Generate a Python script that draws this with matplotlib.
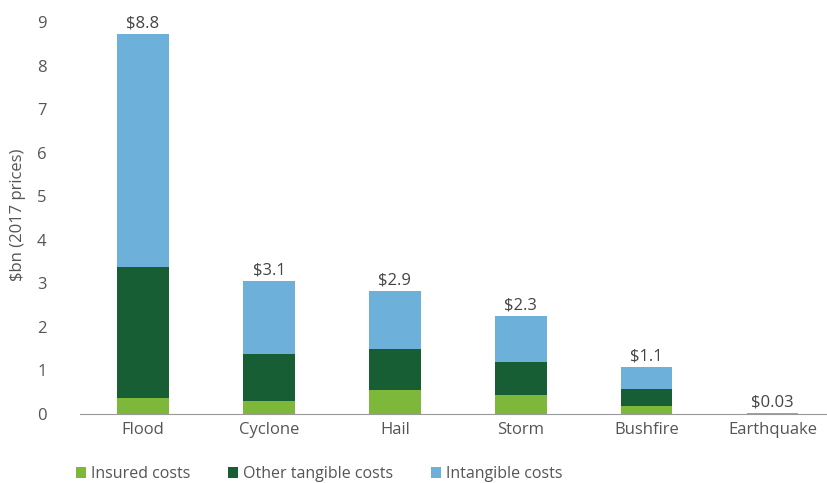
import numpy as np
import matplotlib
matplotlib.use('Agg')
from matplotlib import pyplot as plt

plt.rcParams['font.family'] = ['Open Sans', 'DejaVu Sans']

categories = ['Flood', 'Cyclone', 'Hail', 'Storm', 'Bushfire', 'Earthquake']
insured = [0.37, 0.30, 0.55, 0.44, 0.18, 0.0]
other_tangible = [3.00, 1.08, 0.95, 0.76, 0.40, 0.0]
intangible = [5.35, 1.67, 1.33, 1.05, 0.50, 0.03]
totals = ['$8.8', '$3.1', '$2.9', '$2.3', '$1.1', '$0.03']

c_ins = '#7DB83A'
c_oth = '#175E34'
c_int = '#6DB0DA'
txt = '#555555'

fig = plt.figure(figsize=(8.28, 4.83), dpi=100)
ax = fig.add_axes([80/828, 1 - 414/483, 1 - 80/828, (414 - 22)/483])

x = np.arange(len(categories))
w = 0.41
ins = np.array(insured)
oth = np.array(other_tangible)
itg = np.array(intangible)
ax.bar(x, ins, w, color=c_ins, label='Insured costs')
ax.bar(x, oth, w, bottom=ins, color=c_oth, label='Other tangible costs')
ax.bar(x, itg, w, bottom=ins + oth, color=c_int, label='Intangible costs')

top = ins + oth + itg
for i in range(len(x)):
    ax.text(x[i], top[i] + 0.06, totals[i], ha='center', va='bottom', fontsize=12, color='#444444')

ax.set_xlim(-0.5, 5.44)
ax.set_ylim(0, 9)
ax.set_yticks(range(0, 10))
ax.set_xticks(x)
ax.set_xticklabels(categories)
for s in ['top', 'right', 'left']:
    ax.spines[s].set_visible(False)
ax.spines['bottom'].set_color('#999999')
ax.tick_params(axis='both', length=0, labelsize=12, labelcolor=txt)
ax.tick_params(axis='y', pad=24)
ax.tick_params(axis='x', pad=6)
fig.text(18/828, 1 - 215/483, '$bn (2017 prices)', rotation=90, ha='center', va='center',
         fontsize=12, color=txt)

ax.legend(loc='lower left', bbox_to_anchor=(62/828, -0.028), bbox_transform=fig.transFigure,
          ncol=3, frameon=False, fontsize=11.5, handlelength=0.6, handleheight=0.6,
          handletextpad=0.3, columnspacing=2.4, labelcolor=txt)

plt.savefig('out.png', dpi=100)
